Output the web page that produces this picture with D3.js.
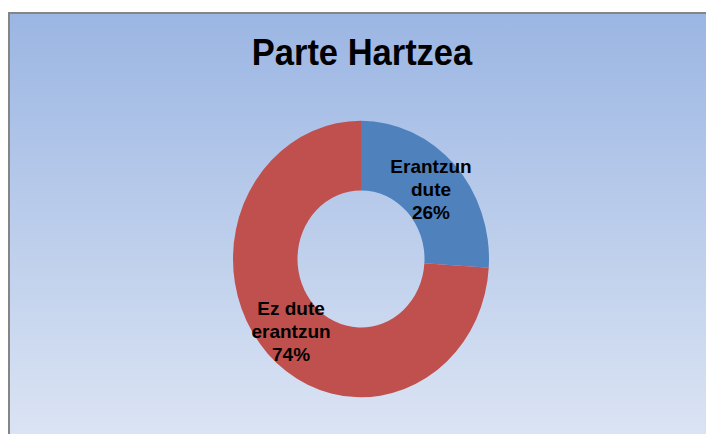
<!DOCTYPE html>
<html>
<head>
<meta charset="utf-8">
<script src="https://cdn.jsdelivr.net/npm/d3@7"></script>
<style>
  body { margin: 0; background: #fff; }
  svg { display: block; font-family: "Liberation Sans", Arial, sans-serif; }
</style>
</head>
<body>
<div id="chart"></div>
<script>
// data
const categories = ["Erantzun dute", "Ez dute erantzun"];
const values = [26, 74];
const labelLines = [["Erantzun", "dute"], ["Ez dute", "erantzun"]];
const colors = ["#4F81BD", "#C0504D"];
const title = "Parte Hartzea";

const W = 706, H = 434;
const cx = 361, cy = 259;
const outerR = 128, innerR = 63.5, stretchY = 1.08;

const svg = d3.select("#chart")
    .append("svg")
    .attr("width", W)
    .attr("height", H);

// background gradient
const grad = svg.append("defs").append("linearGradient")
    .attr("id", "bg")
    .attr("x1", 0).attr("y1", 0).attr("x2", 0).attr("y2", 1);
grad.append("stop").attr("offset", "0%").attr("stop-color", "#9BB6E3");
grad.append("stop").attr("offset", "100%").attr("stop-color", "#DEE6F4");

svg.append("rect")
    .attr("x", 9).attr("y", 13)
    .attr("width", W + 10).attr("height", H + 10)
    .attr("fill", "url(#bg)")
    .attr("stroke", "#858585")
    .attr("stroke-width", 2);

// title
svg.append("text")
    .attr("transform", `translate(362, 65) scale(1, ${stretchY})`)
    .attr("text-anchor", "middle")
    .attr("font-size", 34.5)
    .attr("font-weight", "bold")
    .attr("fill", "#000")
    .text(title);

// donut
const pie = d3.pie().sort(null).value(d => d);
const arcs = pie(values);
const arc = d3.arc().innerRadius(innerR).outerRadius(outerR);

const g = svg.append("g")
    .attr("transform", `translate(${cx}, ${cy}) scale(1, ${stretchY})`);

g.selectAll("path")
    .data(arcs)
    .join("path")
    .attr("d", arc)
    .attr("fill", (d, i) => colors[i]);

// labels
const labelArc = d3.arc().innerRadius(96).outerRadius(96);
const lineH = 23;

arcs.forEach(function (d, i) {
    const c = labelArc.centroid(d);
    const x = cx + c[0];
    const y = cy + c[1] * stretchY;
    const lines = labelLines[i].concat([d3.format(".0f")(values[i]) + "%"]);
    const t = svg.append("text")
        .attr("text-anchor", "middle")
        .attr("font-size", 19)
        .attr("font-weight", "bold")
        .attr("fill", "#000");
    lines.forEach(function (s, k) {
        t.append("tspan")
            .attr("x", x)
            .attr("y", y + 8 + (k - 1) * lineH)
            .text(s);
    });
});
</script>
</body>
</html>
